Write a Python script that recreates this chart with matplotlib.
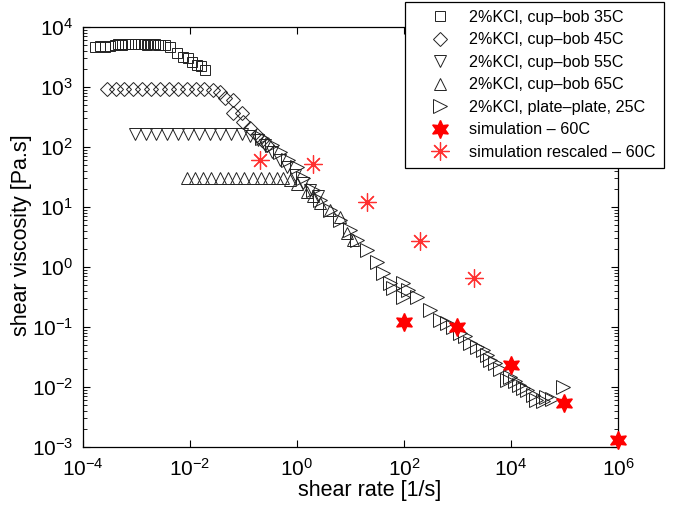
import matplotlib
matplotlib.use("Agg")
import matplotlib.pyplot as plt
import numpy as np

plt.rcParams['font.family'] = ['Liberation Sans', 'DejaVu Sans']
plt.rcParams['mathtext.fontset'] = 'custom'
plt.rcParams['mathtext.rm'] = 'Liberation Sans'
plt.rcParams['mathtext.it'] = 'Liberation Sans:italic'

# 2%KCl, cup-bob 35C
rate35 = [1.7e-4, 2.1e-4, 2.6e-4, 3.2e-4, 4.0e-4, 4.6e-4, 5.3e-4, 6.2e-4, 7.0e-4, 8.0e-4,
          9.3e-4, 1.05e-3, 1.2e-3, 1.4e-3, 1.6e-3, 1.8e-3, 2.0e-3, 2.2e-3, 2.5e-3, 2.8e-3,
          3.4e-3, 4.3e-3, 5.8e-3, 7.4e-3, 9.1e-3, 1.1e-2, 1.35e-2, 1.6e-2, 1.9e-2]
visc35 = [4640, 4800, 4640, 4800, 5000, 5200, 5100, 5200, 5250, 5200,
          5200, 5150, 5200, 5200, 5100, 5200, 5150, 5200, 5100, 5000,
          5000, 4640, 3700, 3200, 3000, 2600, 2300, 2200, 1900]

# 2%KCl, cup-bob 45C
rate45 = [2.8e-4, 4.2e-4, 5.9e-4, 8.5e-4, 1.26e-3, 1.86e-3, 2.75e-3, 4.1e-3, 6.0e-3, 8.7e-3,
          1.29e-2, 1.82e-2, 2.7e-2, 3.6e-2, 4.5e-2, 6.3e-2, 6.3e-2, 9.3e-2, 9.8e-2, 0.132,
          0.178, 0.224, 0.275]
visc45 = [925, 925, 925, 925, 925, 925, 925, 925, 925, 925,
          925, 925, 900, 825, 655, 607, 369, 369, 261, 207,
          158, 131, 108]

# 2%KCl, cup-bob 55C
rate55 = [9.3e-4, 1.48e-3, 2.35e-3, 3.7e-3, 5.9e-3, 9.3e-3, 1.48e-2, 2.35e-2, 3.7e-2, 5.9e-2,
          9.3e-2, 0.132, 0.186, 0.251, 0.339, 0.479, 0.646, 0.912, 1.29, 1.74, 2.45]
visc55 = [165, 165, 165, 165, 165, 165, 165, 165, 165, 165,
          165, 150, 131, 108, 83, 61, 47, 34, 25, 19, 15]

# 2%KCl, cup-bob 65C
rate65 = [8.7e-3, 1.24e-2, 1.78e-2, 2.5e-2, 3.6e-2, 5.1e-2, 7.3e-2, 0.104, 0.148, 0.21,
          0.30, 0.43, 0.55, 0.74, 1.0, 1.55, 2.0, 2.7, 4.2, 6.3, 8.5, 11.2]
visc65 = [30, 30, 30, 30, 30, 30, 30, 30, 30, 30,
          30, 30, 30, 28, 24, 18, 15, 11.7, 8.9, 6.8, 3.7, 2.8]

# 2%KCl, plate-plate, 25C
rate25 = [0.22, 0.34, 0.48, 0.68, 1.0, 1.29, 2.0, 2.7, 4.2, 6.3,
          9.8, 13.2, 20.4, 31.6, 40.7, 55.0, 63.0, 95.5, 95.5, 120, 174,
          309, 468, 630, 830, 1120, 1380, 1700, 2290, 3020, 3500, 4070, 5010,
          6170, 8510, 9800, 11750, 14000, 16600, 20000, 25700, 30000, 39800, 45000, 58900, 93300]
visc25 = [141, 108, 83, 61, 46, 30, 19, 13, 8.9, 6.1,
          4.1, 2.8, 1.9, 1.2, 0.79, 0.54, 0.45, 0.54, 0.32, 0.42, 0.32,
          0.19, 0.13, 0.115, 0.10, 0.079, 0.07, 0.054, 0.047, 0.041, 0.034, 0.028, 0.025,
          0.020, 0.013, 0.0147, 0.0125, 0.0108, 0.0095, 0.0089, 0.0072, 0.0061, 0.0058, 0.0068, 0.0062, 0.010]

# simulation - 60C
sim_rate = [1e2, 1e3, 1e4, 1e5, 1e6]
sim_visc = [0.12, 0.10, 0.023, 0.0054, 0.0013]

# simulation rescaled - 60C
simr_rate = [0.2, 2, 20, 200, 2000]
simr_visc = [60, 52, 12, 2.7, 0.66]

xticks = [1e-4, 1e-2, 1e0, 1e2, 1e4, 1e6]
yticks = [1e-3, 1e-2, 1e-1, 1e0, 1e1, 1e2, 1e3, 1e4]

fig = plt.figure(figsize=(6.88, 5.05), dpi=100)
ax = fig.add_axes([0.1206, 0.115, 0.7776, 0.8315])

edge = '#222222'
ax.plot(rate35, visc35, 's', mfc='none', mec=edge, mew=0.7, ms=7, label='2%KCl, cup\u2013bob 35C')
ax.plot(rate45, visc45, 'D', mfc='none', mec=edge, mew=0.7, ms=7, label='2%KCl, cup\u2013bob 45C')
ax.plot(rate55, visc55, 'v', mfc='none', mec=edge, mew=0.7, ms=9, label='2%KCl, cup\u2013bob 55C')
ax.plot(rate65, visc65, '^', mfc='none', mec=edge, mew=0.7, ms=9, label='2%KCl, cup\u2013bob 65C')
ax.plot(rate25, visc25, '>', mfc='none', mec=edge, mew=0.7, ms=10, label='2%KCl, plate\u2013plate, 25C')
ax.plot(sim_rate, sim_visc, linestyle='none', marker=(6, 1, 0), color='red', ms=13,
        clip_on=False, zorder=5, label='simulation \u2013 60C')
ax.plot(simr_rate, simr_visc, linestyle='none', marker=(8, 2, 0), mfc='none', mec='#ff3030', mew=0.9,
        ms=13, label='simulation rescaled \u2013 60C')

ax.set_xscale('log')
ax.set_yscale('log')
ax.set_xlim(1e-4, 1e6)
ax.set_ylim(1e-3, 1e4)
ax.set_xticks(xticks)
ax.set_yticks(yticks)
ax.xaxis.set_minor_locator(matplotlib.ticker.NullLocator())
ax.yaxis.set_minor_locator(matplotlib.ticker.LogLocator(base=10, subs=np.arange(2, 10), numticks=20))
ax.yaxis.set_minor_formatter(matplotlib.ticker.NullFormatter())
ax.tick_params(which='both', direction='in', top=True, right=True, labelsize=15)
ax.tick_params(axis='x', which='major', pad=8)
ax.tick_params(axis='y', which='major', pad=7)
ax.tick_params(which='major', length=5, width=0.8)
ax.tick_params(which='minor', length=3, width=0.6)
for s in ax.spines.values():
    s.set_linewidth(0.9)

ax.set_xlabel('shear rate [1/s]', fontsize=15.5)
ax.set_ylabel('shear viscosity [Pa.s]', fontsize=15.5)
ax.xaxis.set_label_coords(0.536, -0.078)
ax.yaxis.set_label_coords(-0.095, 0.505)

leg = ax.legend(loc='upper left', bbox_to_anchor=(0.602, 1.0595), borderaxespad=0,
                fontsize=11.6, fancybox=False, framealpha=1, edgecolor='black',
                labelspacing=0.46, handlelength=3.4, handletextpad=0.1, borderpad=0.5)
leg.get_frame().set_linewidth(0.9)

fig.savefig('out.png', dpi=100)
